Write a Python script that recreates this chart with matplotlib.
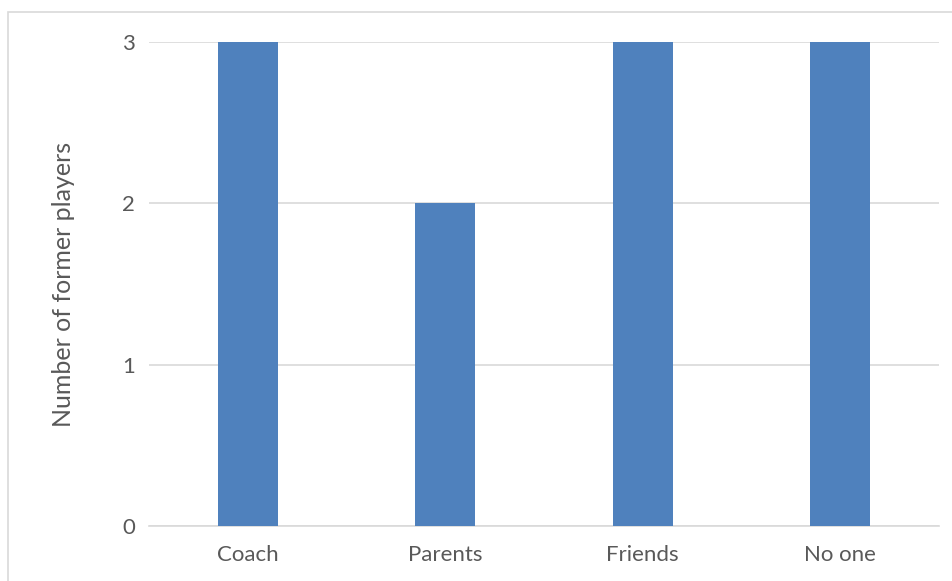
import matplotlib
matplotlib.use("Agg")
import matplotlib.pyplot as plt
from matplotlib.patches import Rectangle

categories = ["Coach", "Parents", "Friends", "No one"]
values = [3, 2, 3, 3]
yticks = [0, 1, 2, 3]

plt.rcParams['font.family'] = ['Lato', 'DejaVu Sans']
text_color = "#595959"

fig = plt.figure(figsize=(9.53, 5.81), dpi=100)
fig.patches.append(Rectangle((8/953, -0.1), 1.2, 1 - 12/581 + 0.1, transform=fig.transFigure,
                             fill=False, edgecolor="#d9d9d9", linewidth=1.2))
ax = fig.add_axes([149/953, 55/581, 790/953, (526-42)/581])
x = list(range(len(categories)))
ax.bar(x, values, width=0.305, color="#4f81bd", zorder=3)
ax.set_xlim(-0.5, len(categories) - 0.5)
ax.set_ylim(0, 3)
ax.set_yticks(yticks)
ax.set_xticks(x)
ax.set_xticklabels(categories)
ax.grid(axis="y", color="#d9d9d9", linewidth=1.2, zorder=0)
for s in ["top", "right", "left"]:
    ax.spines[s].set_visible(False)
ax.spines["bottom"].set_color("#d9d9d9")
ax.spines["bottom"].set_linewidth(1.2)
ax.tick_params(axis="both", length=0, colors=text_color, labelsize=16)
ax.tick_params(axis="y", pad=10)
ax.tick_params(axis="x", pad=14)
ax.set_ylabel("Number of former players", color=text_color, fontsize=18, labelpad=34)
fig.savefig("out.png", dpi=100)
